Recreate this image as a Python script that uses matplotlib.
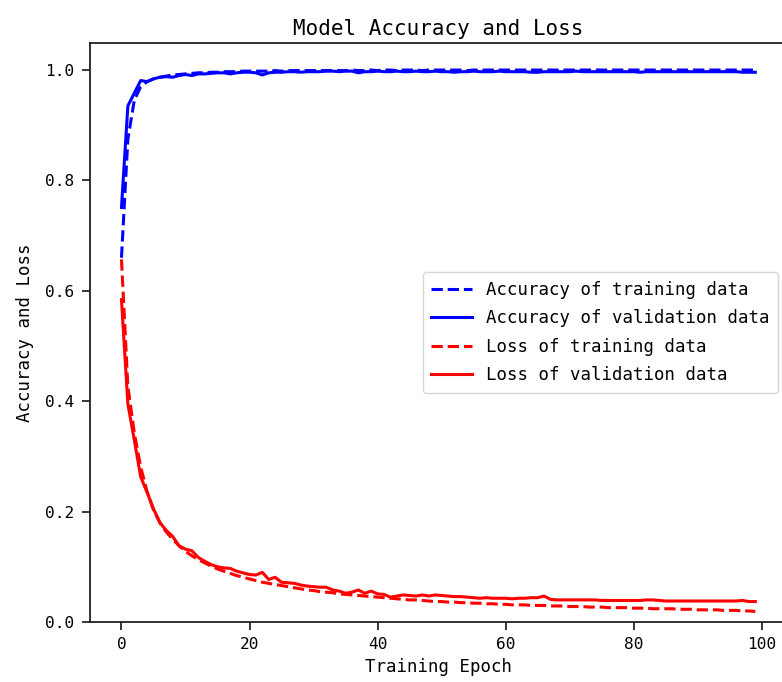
import matplotlib
matplotlib.use("Agg")
import matplotlib.pyplot as plt

plt.rcParams['font.family'] = ['DejaVu Sans Mono', 'DejaVu Sans']

epochs = list(range(100))

train_acc = [
    0.660, 0.875, 0.945, 0.970, 0.979, 0.984, 0.987, 0.989, 0.991, 0.992,
    0.993, 0.994, 0.995, 0.995, 0.996, 0.996, 0.997, 0.997, 0.997, 0.998,
    0.998, 0.998, 0.998, 0.998, 0.999, 0.998, 0.999, 0.999, 0.999, 0.999,
    0.999, 0.999, 0.999, 0.999, 0.999, 0.999, 1.000, 0.999, 0.999, 1.000,
    0.999, 1.000, 1.000, 0.999, 1.000, 1.000, 1.000, 0.999, 1.000, 1.000,
    1.000, 1.000, 1.000, 1.000, 0.999, 1.000, 1.000, 1.000, 1.000, 1.000,
    1.000, 1.000, 1.000, 1.000, 1.000, 1.000, 1.000, 1.000, 1.000, 1.000,
    1.000, 1.000, 1.000, 1.000, 1.000, 1.000, 1.000, 1.000, 1.000, 1.000,
    1.000, 1.000, 1.000, 1.000, 1.000, 1.000, 1.000, 1.000, 1.000, 1.000,
    1.000, 1.000, 1.000, 1.000, 1.000, 1.000, 1.000, 1.000, 1.000, 1.000,
]

val_acc = [
    0.751, 0.935, 0.958, 0.981, 0.979, 0.984, 0.987, 0.988, 0.987, 0.990,
    0.992, 0.990, 0.993, 0.993, 0.994, 0.995, 0.995, 0.993, 0.995, 0.996,
    0.996, 0.995, 0.991, 0.995, 0.996, 0.996, 0.997, 0.997, 0.996, 0.997,
    0.997, 0.997, 0.998, 0.998, 0.997, 0.998, 0.998, 0.995, 0.997, 0.997,
    0.998, 0.997, 0.997, 0.998, 0.997, 0.997, 0.998, 0.997, 0.997, 0.998,
    0.997, 0.997, 0.996, 0.997, 0.997, 0.998, 0.997, 0.997, 0.997, 0.998,
    0.997, 0.997, 0.997, 0.997, 0.996, 0.996, 0.997, 0.997, 0.997, 0.997,
    0.997, 0.998, 0.997, 0.997, 0.997, 0.997, 0.997, 0.997, 0.997, 0.997,
    0.997, 0.996, 0.997, 0.997, 0.997, 0.997, 0.997, 0.997, 0.997, 0.997,
    0.997, 0.997, 0.997, 0.997, 0.997, 0.997, 0.997, 0.996, 0.996, 0.996,
]

train_loss = [
    0.657, 0.427, 0.343, 0.281, 0.236, 0.203, 0.180, 0.163, 0.150, 0.138,
    0.128, 0.120, 0.113, 0.107, 0.101, 0.096, 0.092, 0.088, 0.084, 0.081,
    0.078, 0.075, 0.072, 0.070, 0.068, 0.066, 0.064, 0.062, 0.060, 0.058,
    0.057, 0.055, 0.054, 0.053, 0.051, 0.050, 0.049, 0.048, 0.047, 0.046,
    0.045, 0.044, 0.043, 0.042, 0.041, 0.040, 0.040, 0.039, 0.038, 0.037,
    0.037, 0.036, 0.036, 0.035, 0.035, 0.034, 0.034, 0.033, 0.033, 0.032,
    0.032, 0.031, 0.031, 0.031, 0.030, 0.030, 0.030, 0.029, 0.029, 0.029,
    0.028, 0.028, 0.028, 0.027, 0.027, 0.027, 0.026, 0.026, 0.026, 0.026,
    0.025, 0.025, 0.025, 0.024, 0.024, 0.024, 0.024, 0.023, 0.023, 0.023,
    0.022, 0.022, 0.022, 0.022, 0.021, 0.021, 0.021, 0.020, 0.020, 0.019,
]

val_loss = [
    0.584, 0.395, 0.330, 0.263, 0.235, 0.205, 0.180, 0.166, 0.155, 0.138,
    0.132, 0.129, 0.117, 0.110, 0.104, 0.100, 0.098, 0.097, 0.092, 0.089,
    0.086, 0.085, 0.090, 0.077, 0.081, 0.072, 0.071, 0.070, 0.067, 0.065,
    0.064, 0.063, 0.063, 0.058, 0.056, 0.052, 0.054, 0.058, 0.052, 0.056,
    0.051, 0.050, 0.045, 0.047, 0.049, 0.048, 0.047, 0.049, 0.047, 0.049,
    0.048, 0.047, 0.046, 0.046, 0.045, 0.044, 0.043, 0.044, 0.043, 0.043,
    0.043, 0.042, 0.043, 0.043, 0.044, 0.044, 0.047, 0.041, 0.040, 0.040,
    0.040, 0.040, 0.040, 0.040, 0.040, 0.039, 0.039, 0.039, 0.039, 0.039,
    0.039, 0.039, 0.040, 0.040, 0.039, 0.038, 0.038, 0.038, 0.038, 0.038,
    0.038, 0.038, 0.038, 0.038, 0.038, 0.038, 0.038, 0.039, 0.037, 0.037,
]

fig = plt.figure(figsize=(7.82, 6.82), dpi=100)
# axes runs slightly past the right edge, like the cropped original
ax = fig.add_axes([0.1148, 0.088, 0.8916, 0.849])

lw = 2.2
ax.plot(epochs, train_acc, 'b--', lw=lw, label='Accuracy of training data')
ax.plot(epochs, val_acc, 'b-', lw=lw, label='Accuracy of validation data')
ax.plot(epochs, train_loss, 'r--', lw=lw, label='Loss of training data')
ax.plot(epochs, val_loss, 'r-', lw=lw, label='Loss of validation data')

ax.set_ylim(bottom=0)
ax.set_title('Model Accuracy and Loss', fontsize=15)
ax.set_xlabel('Training Epoch', fontsize=12.5, labelpad=4)
ax.set_ylabel('Accuracy and Loss', fontsize=12.5, labelpad=8)
ax.tick_params(labelsize=11.6, length=5.5, width=1.1, pad=5.5)
for s in ax.spines.values():
    s.set_linewidth(1.3)
    s.set_color('#222222')

ax.legend(loc='center right', fontsize=12.5, handlelength=2.35,
          labelspacing=0.6, borderpad=0.5)

fig.savefig('out.png', dpi=100)
